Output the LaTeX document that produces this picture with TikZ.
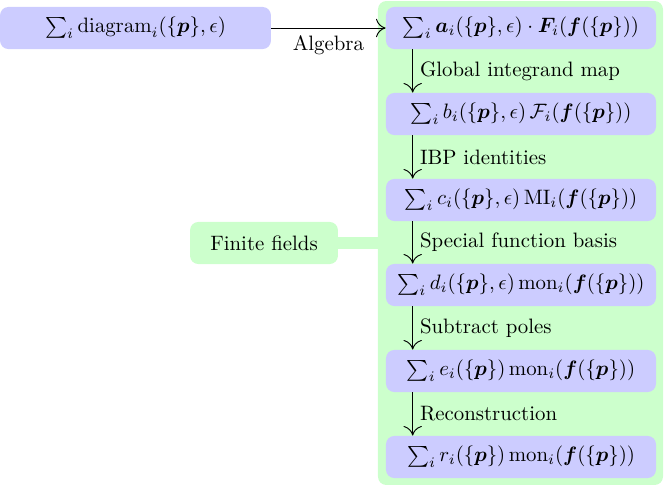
\documentclass[tikz,border=0pt]{standalone}
\usepackage{amsmath,bm}
\usetikzlibrary{arrows.meta}
\begin{document}
\begin{tikzpicture}[x=0.48pt,y=-0.48pt,
  bluebox/.style={fill=blue!20, rounded corners=4pt, minimum width=129.6pt, minimum height=20.2pt, inner sep=0pt},
  greenbox/.style={fill=green!20, rounded corners=4pt, inner sep=0pt},
  flowarrow/.style={-{To[length=4.6pt, width=8.8pt]}, line width=0.45pt}]
\useasboundingbox (0,0) rectangle (664,486);
\node[greenbox, minimum width=136.8pt, minimum height=232.3pt] (panel) at (520.5,243) {};
\node[greenbox, minimum width=71pt, minimum height=20.2pt] (ff) at (264,243) {Finite fields};
\draw[green!20, line width=6.2pt] (ff.east) -- (ff.east -| panel.west);
\node[bluebox, minimum width=130pt] (d) at (135.5,28) {$\sum_i \mathrm{diagram}_i(\{\bm{p}\},\epsilon)$};
\node[bluebox] (n1) at (521,28) {$\sum_i \bm{a}_i(\{\bm{p}\},\epsilon)\cdot\bm{F}_i(\bm{f}(\{\bm{p}\}))$};
\node[bluebox] (n2) at (521,114) {$\sum_i b_i(\{\bm{p}\},\epsilon)\,\mathcal{F}_i(\bm{f}(\{\bm{p}\}))$};
\node[bluebox] (n3) at (521,200) {$\sum_i c_i(\{\bm{p}\},\epsilon)\,\mathrm{MI}_i(\bm{f}(\{\bm{p}\}))$};
\node[bluebox] (n4) at (521,285) {$\sum_i d_i(\{\bm{p}\},\epsilon)\,\mathrm{mon}_i(\bm{f}(\{\bm{p}\}))$};
\node[bluebox] (n5) at (521,371) {$\sum_i e_i(\{\bm{p}\})\,\mathrm{mon}_i(\bm{f}(\{\bm{p}\}))$};
\node[bluebox] (n6) at (521,457) {$\sum_i r_i(\{\bm{p}\})\,\mathrm{mon}_i(\bm{f}(\{\bm{p}\}))$};
\draw[flowarrow] (d.east) -- (n1.west) node[midway, below] {Algebra};
\draw[flowarrow] ([xshift=13pt]n1.south west) -- ([xshift=13pt]n2.north west) node[midway, right] {Global integrand map};
\draw[flowarrow] ([xshift=13pt]n2.south west) -- ([xshift=13pt]n3.north west) node[midway, right] {IBP identities};
\draw[flowarrow] ([xshift=13pt]n3.south west) -- ([xshift=13pt]n4.north west) node[midway, right] {Special function basis};
\draw[flowarrow] ([xshift=13pt]n4.south west) -- ([xshift=13pt]n5.north west) node[midway, right] {Subtract poles};
\draw[flowarrow] ([xshift=13pt]n5.south west) -- ([xshift=13pt]n6.north west) node[midway, right] {Reconstruction};
\end{tikzpicture}
\end{document}
